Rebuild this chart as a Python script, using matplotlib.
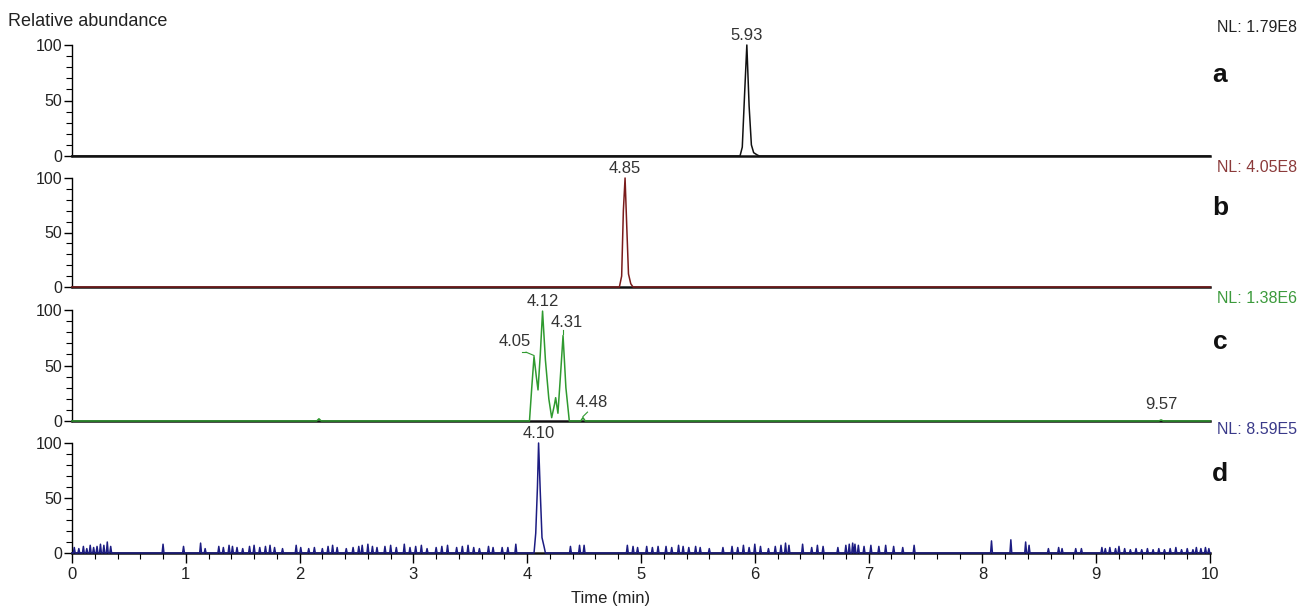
import matplotlib
matplotlib.use("Agg")
import matplotlib.pyplot as plt
from matplotlib.ticker import MultipleLocator

plt.rcParams['font.family'] = ['Liberation Sans', 'DejaVu Sans']

# trace vertices (time in min, relative abundance %)
trace_a_t = [0.0, 5.87, 5.89, 5.91, 5.93, 5.95, 5.97, 5.99, 6.02, 6.04, 10.0]
trace_a_y = [0, 0, 8, 55, 100, 45, 10, 3, 1, 0, 0]

trace_b_t = [0.0, 4.81, 4.83, 4.845, 4.86, 4.875, 4.89, 4.91, 4.93, 10.0]
trace_b_y = [0, 0, 10, 70, 100, 55, 12, 3, 0, 0]

trace_c_t = [0.0, 2.15, 2.17, 2.19, 4.02, 4.04, 4.06, 4.08, 4.095, 4.115, 4.135,
             4.16, 4.19, 4.215, 4.24, 4.25, 4.27, 4.295, 4.315, 4.34, 4.37,
             4.47, 4.49, 4.51, 9.55, 9.57, 9.59, 10.0]
trace_c_y = [0, 0, 2, 0, 0, 30, 58, 40, 28, 60, 99,
             55, 20, 3, 15, 21, 7, 45, 77, 30, 0,
             0, 3, 0, 0, 1, 0, 0]

# panel d: main peak plus baseline noise spikes
peak_d_t = [4.06, 4.075, 4.09, 4.10, 4.115, 4.13, 4.15, 4.16]
peak_d_y = [0, 18, 60, 100, 55, 14, 5, 0]

noise_d_t = [0.02, 0.06, 0.10, 0.13, 0.16, 0.19, 0.22, 0.25, 0.28, 0.31, 0.34,
             0.80, 0.98, 1.13, 1.17, 1.29, 1.33, 1.38, 1.41, 1.45, 1.50, 1.56,
             1.60, 1.65, 1.70, 1.74, 1.78, 1.85, 1.97, 2.01, 2.08, 2.13, 2.20,
             2.25, 2.29, 2.33, 2.41, 2.47, 2.52, 2.55, 2.60, 2.64, 2.68, 2.75,
             2.80, 2.85, 2.92, 2.97, 3.02, 3.07, 3.12, 3.20, 3.25, 3.30, 3.38,
             3.43, 3.48, 3.53, 3.58, 3.66, 3.70, 3.78, 3.83, 3.90,
             4.38, 4.46, 4.50, 4.88, 4.93, 4.97, 5.05, 5.10, 5.15, 5.22, 5.27,
             5.33, 5.37, 5.42, 5.48, 5.52, 5.60, 5.72, 5.80, 5.85, 5.90, 5.95,
             6.00, 6.05, 6.12, 6.18, 6.23, 6.27, 6.30, 6.42, 6.50, 6.55, 6.60,
             6.73, 6.80, 6.83, 6.86, 6.88, 6.91, 6.96, 7.02, 7.09, 7.15, 7.22,
             7.30, 7.40, 8.08, 8.25, 8.38, 8.41, 8.58, 8.67, 8.70, 8.82, 8.87,
             9.05, 9.08, 9.12, 9.17, 9.20, 9.25, 9.30, 9.35, 9.40, 9.45, 9.50,
             9.55, 9.60, 9.65, 9.70, 9.75, 9.80, 9.85, 9.88, 9.92, 9.96, 9.99]
noise_d_y = [5, 4, 6, 4, 7, 5, 6, 8, 7, 10, 6,
             8, 6, 9, 4, 6, 5, 7, 6, 5, 4, 6,
             7, 5, 6, 7, 5, 4, 7, 5, 4, 5, 4,
             6, 7, 5, 4, 5, 6, 7, 8, 6, 5, 6,
             7, 5, 8, 5, 6, 7, 4, 5, 6, 7, 5,
             6, 7, 5, 4, 6, 5, 5, 5, 8,
             6, 7, 7, 7, 6, 5, 6, 5, 6, 6, 5,
             7, 6, 5, 6, 5, 4, 5, 6, 5, 7, 5,
             8, 6, 4, 6, 7, 9, 7, 8, 5, 7, 6,
             5, 7, 8, 9, 8, 7, 6, 7, 6, 7, 6,
             5, 7, 11, 12, 10, 7, 4, 5, 4, 4, 4,
             5, 4, 5, 4, 6, 4, 3, 4, 3, 4, 3,
             4, 3, 4, 5, 3, 4, 3, 5, 4, 5, 4]

# peak labels: (text, anchor time, anchor height)
labels_a = [("5.93", 5.93, 100)]
labels_b = [("4.85", 4.86, 100)]
labels_c = [("4.12", 4.135, 99), ("4.05", 4.06, 58), ("4.31", 4.315, 77),
            ("4.48", 4.49, 3), ("9.57", 9.57, 1)]
labels_d = [("4.10", 4.10, 100)]

nl_values = ["NL: 1.79E8", "NL: 4.05E8", "NL: 1.38E6", "NL: 8.59E5"]
panel_letters = ["a", "b", "c", "d"]


def spikes_to_line(times, heights, peak_t, peak_y):
    pts = [(0.0, 0.0)]
    for t, h in zip(times, heights):
        pts += [(t - 0.008, 0), (t, h), (t + 0.008, 0)]
    pts += list(zip(peak_t, peak_y))
    pts.append((10.0, 0.0))
    pts.sort()
    return [p[0] for p in pts], [p[1] for p in pts]


trace_d_t, trace_d_y = spikes_to_line(noise_d_t, noise_d_y, peak_d_t, peak_d_y)

traces = [(trace_a_t, trace_a_y), (trace_b_t, trace_b_y),
          (trace_c_t, trace_c_y), (trace_d_t, trace_d_y)]
labels = [labels_a, labels_b, labels_c, labels_d]
line_colors = ["#111111", "#7a1c1c", "#2f9a2f", "#1c1c82"]
nl_colors = ["#222222", "#8b3a3a", "#3c9a3c", "#3a3a8a"]

W, H = 1303, 609
fig = plt.figure(figsize=(W / 100, H / 100), dpi=100)

left = 72 / W
width = (1210 - 72) / W
zero_px = [156, 287, 421, 553]
top_px = [45, 178, 310, 443]
nl_px = [28, 167, 298, 430]
letter_px = [75, 208, 342, 474]

# label text placement (dx in min, dy in %) and leader start, relative to anchor
label_offsets = {"4.05": (-0.17, 7, -0.07, 4), "4.31": (0.03, 5, 0.0, 5),
                 "4.48": (0.08, 6.5, 0.04, 5)}

for i in range(4):
    bottom = 1 - zero_px[i] / H
    h = (zero_px[i] - top_px[i]) / H
    ax = fig.add_axes([left, bottom, width, h])
    ax.set_xlim(0, 10)
    ax.set_ylim(0, 100)
    for s in ["top", "right"]:
        ax.spines[s].set_visible(False)
    ax.spines["left"].set_bounds(0, 100)
    ax.spines["left"].set_linewidth(1.0)
    ax.spines["bottom"].set_linewidth(1.8)
    ax.spines["bottom"].set_color("#111111")
    ax.set_yticks([0, 50, 100])
    ax.yaxis.set_minor_locator(MultipleLocator(10))
    ax.tick_params(axis="y", which="major", length=6, width=1.0,
                   labelsize=11.5, labelcolor="#222222", pad=1)
    ax.tick_params(axis="y", which="minor", length=4, width=0.8)
    if i < 3:
        ax.set_xticks([])
    else:
        ax.set_xticks(range(11))
        ax.xaxis.set_minor_locator(MultipleLocator(0.2))
        ax.tick_params(axis="x", which="major", length=7, width=1.0,
                       labelsize=12, labelcolor="#222222", pad=3)
        ax.tick_params(axis="x", which="minor", length=4, width=0.8)

    t, y = traces[i]
    ax.plot(t, y, color=line_colors[i], lw=1.1, clip_on=False, zorder=3)

    for txt, tx, ty in labels[i]:
        if txt in label_offsets:
            dx, dy, ldx, ldy = label_offsets[txt]
            ax.plot([tx + ldx, tx], [ty + ldy, ty + 1], color=line_colors[i],
                    lw=0.8, clip_on=False)
            if txt == "4.05":
                ax.plot([tx + dx + 0.06, tx + ldx], [ty + ldy, ty + ldy],
                        color=line_colors[i], lw=0.8, clip_on=False)
            ax.text(tx + dx, ty + dy, txt, ha="center", va="bottom",
                    fontsize=12, color="#333333", clip_on=False)
        else:
            gap = 7 if txt == "9.57" else 2
            ax.text(tx, ty + gap, txt, ha="center", va="bottom", fontsize=12,
                    color="#333333", clip_on=False)

    fig.text(1297 / W, 1 - nl_px[i] / H, nl_values[i], ha="right",
             va="center", fontsize=11.5, color=nl_colors[i])
    fig.text(1220 / W, 1 - letter_px[i] / H, panel_letters[i], ha="center",
             va="center", fontsize=19, fontweight="bold", color="#111111")

fig.text(8 / W, 1 - 22 / H, "Relative abundance", ha="left", va="center",
         fontsize=13, color="#222222")
fig.text(611 / W, 1 - 598 / H, "Time (min)", ha="center", va="center",
         fontsize=12, color="#222222")

fig.savefig("out.png", dpi=100, facecolor="white")
